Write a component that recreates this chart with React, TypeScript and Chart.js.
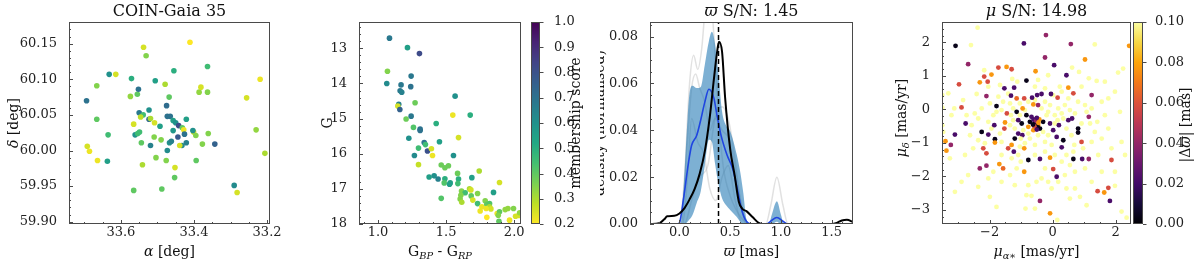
import React, { useEffect, useRef } from "react";
import { Chart, registerables } from "chart.js";

Chart.register(...registerables);

const FONT = "'DejaVu Serif', serif";
Chart.defaults.font.family = FONT;

const RA = [33.694, 33.666, 33.666, 33.692, 33.686, 33.664, 33.635, 33.637, 33.632, 33.614,
  33.571, 33.574, 33.555, 33.552, 33.538, 33.531, 33.550, 33.539, 33.546, 33.565,
  33.561, 33.549, 33.554, 33.544, 33.523, 33.523, 33.519, 33.519, 33.541, 33.565,
  33.509, 33.506, 33.508, 33.493, 33.490, 33.504, 33.488, 33.479, 33.475, 33.468,
  33.473, 33.465, 33.455, 33.457, 33.450, 33.442, 33.457, 33.467, 33.462, 33.473,
  33.476, 33.444, 33.452, 33.453, 33.432, 33.428, 33.426, 33.433, 33.439, 33.421,
  33.421, 33.411, 33.401, 33.403, 33.395, 33.394, 33.386, 33.381, 33.377, 33.363,
  33.363, 33.361, 33.343, 33.290, 33.282, 33.256, 33.230, 33.219, 33.206];
const DEC = [60.070, 60.091, 60.044, 60.006, 59.999, 59.986, 60.022, 59.985, 60.107, 60.107,
  60.101, 60.076, 60.079, 60.086, 60.145, 60.133, 60.053, 60.050, 60.047, 60.037,
  60.022, 60.026, 60.024, 60.011, 60.044, 60.057, 60.045, 60.007, 59.980, 59.944,
  60.019, 60.098, 60.039, 60.034, 60.015, 59.990, 59.946, 60.093, 60.063, 60.075,
  60.048, 60.048, 60.112, 60.042, 60.039, 60.035, 60.028, 60.011, 60.013, 60.000,
  59.986, 60.019, 59.976, 59.962, 60.032, 60.029, 60.023, 60.007, 60.007, 60.044,
  60.011, 60.152, 60.026, 60.028, 60.021, 59.986, 60.082, 60.089, 60.009, 60.118,
  60.082, 60.024, 60.009, 59.951, 59.941, 60.074, 60.029, 60.100, 59.996];
const MEMB_SKY = [0.70, 0.35, 0.40, 0.25, 0.22, 0.22, 0.45, 0.55, 0.60, 0.25,
  0.50, 0.33, 0.40, 0.70, 0.25, 0.35, 0.68, 0.45, 0.28, 0.25,
  0.60, 0.45, 0.45, 0.40, 0.72, 0.60, 0.30, 0.65, 0.30, 0.40,
  0.35, 0.55, 0.25, 0.55, 0.35, 0.35, 0.40, 0.30, 0.72, 0.40,
  0.70, 0.70, 0.50, 0.55, 0.60, 0.82, 0.58, 0.60, 0.65, 0.62,
  0.35, 0.78, 0.25, 0.40, 0.40, 0.22, 0.70, 0.62, 0.25, 0.55,
  0.65, 0.20, 0.25, 0.60, 0.35, 0.40, 0.33, 0.25, 0.35, 0.45,
  0.35, 0.35, 0.75, 0.62, 0.25, 0.25, 0.33, 0.22, 0.30];
const RA_TICKS = [33.6, 33.4, 33.2];
const DEC_TICKS = [59.9, 59.95, 60.0, 60.05, 60.1, 60.15];

const BPRP = [1.084, 1.216, 1.304, 1.069, 1.064, 1.243, 1.169, 1.240, 1.162, 1.174,
  1.272, 1.152, 1.145, 1.160, 1.566, 1.206, 1.243, 1.549, 1.677, 1.260,
  1.309, 1.309, 1.427, 1.591, 1.226, 1.339, 1.348, 1.451, 1.297, 1.363,
  1.392, 1.400, 1.267, 1.554, 1.297, 1.464, 1.491, 1.517, 1.584, 1.743,
  1.375, 1.412, 1.441, 1.491, 1.486, 1.530, 1.525, 1.591, 1.586, 1.689,
  1.464, 1.613, 1.640, 1.608, 1.672, 1.682, 1.731, 1.684, 1.603, 1.615,
  1.696, 1.731, 1.848, 1.787, 1.763, 1.750, 1.799, 1.819, 1.819, 1.829,
  1.794, 1.799, 1.892, 1.875, 1.892, 1.883, 1.934, 1.954, 1.995, 1.966,
  1.888, 2.010, 2.032, 2.040];
const GMAG = [12.71, 12.98, 13.15, 13.65, 14.00, 13.79, 14.04, 14.09, 14.21, 14.25,
  14.55, 14.59, 14.64, 14.74, 14.36, 15.01, 14.93, 14.90, 14.90, 15.25,
  15.30, 15.34, 15.14, 15.54, 15.56, 15.68, 15.74, 15.66, 15.84, 15.92,
  15.86, 16.05, 16.05, 16.05, 16.31, 16.32, 16.40, 16.34, 16.56, 16.49,
  16.66, 16.63, 16.72, 16.71, 16.83, 16.83, 16.87, 16.72, 16.85, 16.68,
  17.27, 17.06, 17.11, 17.18, 17.00, 17.03, 17.13, 17.20, 17.29, 17.38,
  17.32, 17.42, 17.10, 17.34, 17.51, 17.63, 17.44, 17.42, 17.51, 17.57,
  17.56, 17.81, 16.82, 17.70, 17.65, 17.75, 17.59, 17.56, 17.56, 17.89,
  17.92, 17.78, 17.76, 17.68];
const MEMB_CMD = [0.68, 0.55, 0.82, 0.35, 0.62, 0.68, 0.68, 0.70, 0.68, 0.65,
  0.38, 0.65, 0.25, 0.75, 0.60, 0.38, 0.68, 0.22, 0.50, 0.42,
  0.70, 0.70, 0.50, 0.25, 0.60, 0.70, 0.45, 0.55, 0.45, 0.80,
  0.25, 0.22, 0.62, 0.60, 0.27, 0.38, 0.38, 0.38, 0.38, 0.30,
  0.55, 0.60, 0.65, 0.50, 0.42, 0.55, 0.55, 0.50, 0.45, 0.55,
  0.42, 0.35, 0.45, 0.35, 0.30, 0.25, 0.35, 0.40, 0.35, 0.30,
  0.25, 0.45, 0.55, 0.35, 0.22, 0.22, 0.40, 0.42, 0.30, 0.25,
  0.22, 0.20, 0.25, 0.22, 0.40, 0.35, 0.33, 0.33, 0.35, 0.22,
  0.40, 0.25, 0.25, 0.33];
const BPRP_TICKS = [1.0, 1.5, 2.0];
const G_TICKS = [13, 14, 15, 16, 17, 18];
const MEMB_TICKS = [0.2, 0.3, 0.4, 0.5, 0.6, 0.7, 0.8, 0.9, 1.0];

const BAND_X = [-0.29, 0.01, 0.03, 0.05, 0.08, 0.1, 0.13, 0.17, 0.21, 0.25, 0.29, 0.32, 0.35, 0.38,
  0.42, 0.46, 0.5, 0.565, 0.6, 0.63, 0.66, 0.7, 0.88, 0.91, 0.96, 1.0, 1.03, 1.71];
const BAND_UP = [0, 0, 0.008, 0.022, 0.045, 0.056, 0.059, 0.058, 0.0585, 0.068, 0.078, 0.082, 0.077, 0.066,
  0.048, 0.042, 0.0396, 0.0296, 0.022, 0.013, 0.002, 0, 0, 0.004, 0.0097, 0.004, 0, 0];
const BAND_LO = [0, 0, 0, 0, 0.001, 0.002, 0.004, 0.009, 0.014, 0.025, 0.036, 0.035, 0.026, 0.018,
  0.011, 0.008, 0.006, 0.003, 0.001, 0, 0, 0, 0, 0, 0.001, 0, 0, 0];
const BLUE_X = [-0.29, -0.02, 0.0, 0.04, 0.09, 0.12, 0.17, 0.205, 0.25, 0.29, 0.34, 0.37, 0.41, 0.47,
  0.525, 0.57, 0.62, 0.68, 0.72, 0.86, 0.9, 0.96, 1.02, 1.07, 1.71];
const BLUE_Y = [0, 0, 0.0005, 0.0107, 0.0264, 0.0336, 0.0378, 0.0435, 0.052, 0.0575, 0.0536, 0.0464, 0.0378, 0.0293,
  0.0236, 0.015, 0.005, 0.0003, 0, 0, 0.0012, 0.0028, 0.0012, 0, 0];
const BLACK_X = [-0.29, -0.2, -0.15, -0.12, -0.05, 0.0, 0.05, 0.1, 0.15, 0.2, 0.25, 0.3, 0.34, 0.37, 0.39,
  0.42, 0.45, 0.5, 0.545, 0.585, 0.62, 0.66, 0.72, 0.78, 0.82, 1.5, 1.55, 1.6, 1.65, 1.71];
const BLACK_Y = [0, 0.0003, 0.002, 0.0033, 0.0035, 0.0045, 0.0068, 0.0105, 0.015, 0.0215, 0.031, 0.046, 0.062, 0.073, 0.0778,
  0.0735, 0.054, 0.032, 0.0205, 0.0095, 0.0065, 0.0055, 0.003, 0.0005, 0, 0, 0.0005, 0.0015, 0.0018, 0.0008];
const GREY1_X = [-0.29, 0.0, 0.05, 0.1, 0.14, 0.18, 0.22, 0.26, 0.3, 0.34, 0.38, 0.43, 0.5, 0.56, 0.62, 0.7, 1.71];
const GREY1_Y = [0, 0, 0.02, 0.06, 0.072, 0.066, 0.075, 0.095, 0.1, 0.08, 0.05, 0.025, 0.012, 0.006, 0.002, 0, 0];
const GREY2_X = [-0.29, 0.02, 0.07, 0.12, 0.16, 0.2, 0.25, 0.3, 0.35, 0.42, 0.5, 0.57, 0.64, 0.7, 0.85, 0.9, 0.96, 1.02, 1.07, 1.71];
const GREY2_Y = [0, 0, 0.03, 0.058, 0.064, 0.058, 0.052, 0.04, 0.045, 0.04, 0.035, 0.018, 0.003, 0, 0, 0.008, 0.02, 0.008, 0, 0];
const GREY3_X = [-0.29, 0.03, 0.08, 0.12, 0.18, 0.24, 0.3, 0.36, 0.42, 0.48, 0.55, 0.62, 1.71];
const GREY3_Y = [0, 0, 0.02, 0.045, 0.035, 0.03, 0.015, 0.01, 0.02, 0.025, 0.01, 0, 0];
const GREY4_X = [-0.29, 0.05, 0.12, 0.2, 0.28, 0.35, 0.42, 0.48, 0.54, 0.6, 0.66, 1.71];
const GREY4_Y = [0, 0, 0.01, 0.02, 0.025, 0.045, 0.05, 0.045, 0.03, 0.01, 0, 0];
const PLX_MARK = 0.385;
const PLX_TICKS = [0.0, 0.5, 1.0, 1.5];
const DENS_TICKS = [0.0, 0.02, 0.04, 0.06, 0.08];

const PM_RA = [
  -1.72, -1.57, -1.35, -1.62, -1.25, -1.04, -0.77, -0.56, -0.24, -0.08,
  -0.35, -0.14, 0.18, 0.39, 0.55, 0.71, 0.29, -0.19, 0.07, -0.88,
  -1.04, -1.25, -1.35, -1.20, -0.93, -0.77, -0.30, -0.14, -0.03, -0.56,
  -0.88, -1.04, -1.62, -1.67, -1.94, -2.04, -2.36, -2.47, -2.25, -1.99,
  -1.88, -2.57, -2.73, -2.84, -3.21, -2.36, -2.15, -2.52, -1.62, -1.30,
  -1.09, -0.24, 0.07, 0.44, 0.55, 0.29, 0.97, 1.24, 1.56, 1.34,
  1.77, 1.66, 1.56, 1.77, 1.98, 2.14, 0.81, 1.03, 1.24, 0.50,
  0.29, 0.02, -0.24, -0.56, -0.46, -0.14, 0.92, 1.66, 1.08, 0.71,
  1.03, 0.39, -0.14, -0.77, -1.35, -1.14, -1.62, -2.04, -2.68, -2.89,
  0.44, 0.71, 1.56, 1.98, 2.30, 2.19, 1.87, -3.50, -3.47,
  -2.38, -3.08, -2.59, -0.91, -0.21, 0.58, 1.34, 2.43, -2.68, -1.72,
  -1.46, -1.30, -2.17, -1.94, -2.17, -2.31, -2.06, -2.04, -1.67, -1.28,
  -1.12, -0.83, -0.54, -0.24, 0.05, 0.44, 0.62, 1.03, 0.84, 1.15,
  1.40, 2.08, 2.24, 0.23, 0.50, 0.66, 1.24, -2.97, -3.31, -3.50,
  -2.41, -2.10, -1.53, -1.22, -1.41, -1.32, -1.14, -0.90, -0.65, -0.49,
  -0.35, -0.05, 0.16, -0.46, -0.61, -0.95, -1.78, -1.78, -2.89, -3.12,
  -3.50, -2.76, -3.10, -3.23, -3.40, -3.37, -2.62, -2.25, -2.04, -1.85,
  -1.83, -1.83, -1.51, -1.53, -1.45, -1.32, -1.14, -1.09, -0.98, -0.83,
  -0.72, -0.67, -0.56, -0.51, -0.46, -0.56, -0.40, -0.61, -0.77, -0.30,
  -0.08, 0.07, 0.16, 0.20, 0.02, 0.34, 0.50, 0.62, 0.44, 0.81,
  0.81, 0.92, 1.15, 1.19, 1.42, -1.09, -0.96, -1.20, -1.01, -1.30,
  -1.41, -1.23, -0.90, -0.72, -0.46, -0.24, 0.13, 0.34, 0.60, 0.69,
  0.92, 0.29, -0.08, -0.40, -0.77, -2.20, -2.10, -2.31, -2.10, -1.69,
  -1.57, -1.88, -1.01, -0.90, 0.13, 0.02, 0.18, 0.66, 0.94, 1.15,
  1.87, 1.45, 0.66, -0.56, -0.24, -0.35, -0.51, -0.03, -2.36, -3.10,
  -2.78, -3.26, -1.99, -1.78, -0.83, -0.67, -0.40, -0.86, -0.56, -0.08,
  0.15, 0.55, 1.08, 1.43, 1.64, 1.77, 1.82, 1.98, 2.19, 2.35,
  0.87, 1.24, -1.20,
  -0.55, -0.60, -0.48, -0.52, -0.45, -0.58, -0.50, -0.42, -0.62, -0.50];
const PM_DEC = [
  0.38, 0.23, 0.18, -0.02, 0.03, 0.18, 0.23, 0.28, 0.23, 0.13,
  0.03, -0.07, 0.03, 0.13, -0.02, -0.12, -0.12, -0.17, -0.17, -0.02,
  -0.17, -0.32, -0.47, -0.57, -0.62, -0.72, -0.67, -0.77, -1.06, -1.06,
  -1.01, -1.11, -0.97, -0.72, -0.57, -0.37, -0.27, -0.12, 0.03, 0.18,
  -0.17, -0.47, -0.17, 0.28, -0.17, -0.92, -1.01, -1.16, -1.36, -1.46,
  -1.36, -1.26, -1.36, -1.36, -1.66, -1.56, -1.16, -0.97, -0.87, -0.67,
  -0.57, -0.17, 0.23, 0.33, 0.53, -0.07, 0.23, 0.13, 0.03, 0.33,
  0.53, 0.43, 0.63, 0.68, 0.88, 1.02, 0.68, 0.83, -0.07, -1.86,
  -1.76, -1.96, -2.16, -2.26, -1.96, -1.76, -2.16, -2.06, -1.96, -2.16,
  -2.36, -2.36, -1.86, -1.86, -1.36, -0.97, -1.16, -0.47, -0.67,
  2.44, 1.90, 1.92, 1.97, 2.22, 1.95, 1.94, 1.90, 1.35, 1.25,
  1.27, 1.20, 1.17, 1.04, 0.98, 0.81, 0.83, 0.68, 0.73, 0.91,
  0.83, 0.86, 1.14, 1.55, 1.32, 1.02, 1.25, 1.49, 1.12, 0.93,
  0.85, 1.10, 1.22, 0.68, 0.65, 0.48, 0.43, 0.75, 0.48, 0.43,
  0.46, 0.40, 0.63, 0.65, 0.47, 0.41, 0.33, 0.33, 0.35, 0.43,
  0.46, 0.46, 0.35, 0.13, 0.15, 0.03, 0.10, -0.07, 0.06, 0.03,
  0.05, -0.42, -0.75, -1.06, -0.95, -1.23, -0.77, -0.67, -0.75, -0.47,
  -0.89, -0.99, -0.39, -0.57, -0.12, -0.17, -0.07, -0.32, -0.42, -0.17,
  -0.37, -0.22, -0.37, -0.32, -0.47, -0.57, -0.57, -0.62, -0.52, -0.37,
  -0.42, -0.42, -0.32, -0.47, -0.62, -0.27, -0.32, -0.27, -0.57, -0.57,
  -0.69, -0.42, -0.22, -0.42, -0.37, -0.72, -0.77, -0.87, -0.87, -1.06,
  -1.16, -1.26, -1.16, -0.87, -0.77, -0.97, -0.82, -0.92, -0.77, -1.06,
  -0.97, -1.13, -1.44, -1.48, -1.51, -1.16, -1.31, -1.76, -1.68, -1.63,
  -1.76, -1.86, -1.56, -1.86, -2.01, -1.78, -2.16, -1.48, -1.48, -1.48,
  -1.51, -1.36, -1.26, -1.36, -1.76, -2.06, -2.16, -2.36, -2.31, -2.46,
  -1.36, -1.46, -2.61, -2.91, -2.56, -2.58, -2.73, -2.96, -2.96, -3.10,
  -3.30, -2.66, -2.86, -2.44, -2.48, -2.34, -2.73, -2.28, -3.05, -3.23,
  -2.61, -2.16, -2.26,
  -0.42, -0.30, -0.50, -0.35, -0.40, -0.50, -0.60, -0.30, -0.45, -0.25];
const DPLX = [
  0.1, 0.1, 0.1, 0.1, 0.1, 0.1, 0.1, 0.1, 0.1, 0.1,
  0.1, 0.1, 0.1, 0.1, 0.1, 0.1, 0.1, 0.1, 0.1, 0.1,
  0.1, 0.1, 0.1, 0.1, 0.1, 0.1, 0.1, 0.1, 0.1, 0.1,
  0.1, 0.1, 0.1, 0.1, 0.1, 0.1, 0.1, 0.1, 0.1, 0.1,
  0.1, 0.1, 0.1, 0.1, 0.1, 0.1, 0.1, 0.1, 0.1, 0.1,
  0.1, 0.1, 0.1, 0.1, 0.1, 0.1, 0.1, 0.1, 0.1, 0.1,
  0.1, 0.1, 0.1, 0.1, 0.1, 0.1, 0.1, 0.1, 0.1, 0.1,
  0.1, 0.1, 0.1, 0.1, 0.1, 0.1, 0.1, 0.1, 0.1, 0.1,
  0.1, 0.1, 0.1, 0.1, 0.1, 0.1, 0.1, 0.1, 0.1, 0.1,
  0.1, 0.1, 0.1, 0.1, 0.1, 0.1, 0.1, 0.1, 0.1,
  0.1, 0.004, 0.1, 0.022, 0.04, 0.04, 0.1, 0.077, 0.04, 0.058,
  0.077, 0.058, 0.1, 0.077, 0.058, 0.077, 0.058, 0.1, 0.1, 0.1,
  0.1, 0.004, 0.077, 0.04, 0.022, 0.022, 0.1, 0.077, 0.1, 0.1,
  0.1, 0.1, 0.1, 0.1, 0.077, 0.058, 0.04, 0.058, 0.1, 0.1,
  0.1, 0.04, 0.022, 0.022, 0.1, 0.022, 0.066, 0.058, 0.022, 0.022,
  0.022, 0.022, 0.058, 0.04, 0.077, 0.077, 0.004, 0.1, 0.058, 0.1,
  0.1, 0.022, 0.022, 0.04, 0.077, 0.077, 0.1, 0.004, 0.022, 0.022,
  0.004, 0.077, 0.077, 0.058, 0.058, 0.1, 0.004, 0.022, 0.004, 0.004,
  0.004, 0.022, 0.015, 0.004, 0.077, 0.022, 0.004, 0.077, 0.077, 0.004,
  0.022, 0.1, 0.1, 0.022, 0.022, 0.1, 0.022, 0.022, 0.1, 0.004,
  0.004, 0.1, 0.04, 0.1, 0.1, 0.022, 0.022, 0.004, 0.1, 0.077,
  0.058, 0.022, 0.077, 0.1, 0.1, 0.1, 0.022, 0.004, 0.1, 0.1,
  0.058, 0.022, 0.077, 0.022, 0.004, 0.058, 0.058, 0.04, 0.04, 0.077,
  0.066, 0.1, 0.1, 0.077, 0.022, 0.058, 0.1, 0.004, 0.022, 0.04,
  0.058, 0.1, 0.1, 0.1, 0.1, 0.1, 0.1, 0.1, 0.1, 0.1,
  0.1, 0.1, 0.1, 0.1, 0.1, 0.1, 0.04, 0.1, 0.1, 0.077,
  0.1, 0.1, 0.1, 0.058, 0.077, 0.058, 0.022, 0.1, 0.1, 0.1,
  0.1, 0.1, 0.1,
  0.004, 0.022, 0.004, 0.04, 0.077, 0.058, 0.022, 0.077, 0.004, 0.022];
const PMRA_TICKS = [-2, 0, 2];
const PMDEC_TICKS = [-3, -2, -1, 0, 1, 2];
const DPLX_TICKS = [0.0, 0.02, 0.04, 0.06, 0.08, 0.1];

const VIRIDIS = ["#440154", "#482475", "#414487", "#355f8d", "#2a788e", "#21918c", "#22a884", "#44bf70", "#7ad151", "#bddf26", "#fde725"];
const INFERNO = ["#000004", "#160b39", "#420a68", "#6a176e", "#932667", "#bc3754", "#dd513a", "#f37819", "#fca50a", "#f6d746", "#fcffa4"];

function hexToRgb(h: string) {
  return [parseInt(h.slice(1, 3), 16), parseInt(h.slice(3, 5), 16), parseInt(h.slice(5, 7), 16)];
}
function cmap(stops: string[], t: number) {
  const tt = Math.max(0, Math.min(1, t));
  const f = tt * (stops.length - 1);
  const i = Math.min(stops.length - 2, Math.floor(f));
  const r = f - i;
  const a = hexToRgb(stops[i]);
  const b = hexToRgb(stops[i + 1]);
  const c = a.map((v, k) => Math.round(v + (b[k] - v) * r));
  return `rgb(${c[0]},${c[1]},${c[2]})`;
}
const membColor = (v: number) => cmap(VIRIDIS, (1.0 - v) / 0.8);
const dplxColor = (v: number) => cmap(INFERNO, v / 0.1);

type Seg = { t: string; sub?: boolean; it?: boolean };
type TextItem = { segs: Seg[]; x: number; y: number; size: number; rot?: boolean };

function makeTextPlugin(items: TextItem[], offsetX: number) {
  return {
    id: "txt",
    afterDraw(chart: any) {
      const ctx = chart.ctx;
      for (const it of items) {
        ctx.save();
        const fontOf = (s: Seg) => `${s.it ? "italic " : ""}${s.sub ? it.size * 0.7 : it.size}px ${FONT}`;
        let w = 0;
        for (const s of it.segs) {
          ctx.font = fontOf(s);
          w += ctx.measureText(s.t).width;
        }
        ctx.translate(it.x - offsetX, it.y);
        if (it.rot) ctx.rotate(-Math.PI / 2);
        ctx.fillStyle = "#111";
        ctx.textBaseline = "alphabetic";
        ctx.textAlign = "left";
        let cx = -w / 2;
        for (const s of it.segs) {
          ctx.font = fontOf(s);
          ctx.fillText(s.t, cx, s.sub ? it.size * 0.22 : 0);
          cx += ctx.measureText(s.t).width;
        }
        ctx.restore();
      }
    },
  };
}

type FrameCfg = { xMajor?: number[]; xMinor?: number; yMajor: number[]; yMinor?: number; cbar?: boolean };
function makeFramePlugin(cfg: FrameCfg) {
  return {
    id: "frame",
    afterDatasetsDraw(chart: any) {
      const { ctx, chartArea: a } = chart;
      const xs = chart.scales.x;
      const ys = chart.scales.y;
      ctx.save();
      ctx.strokeStyle = "#4a4a4a";
      ctx.lineWidth = 1;
      ctx.beginPath();
      const py = (v: number) => Math.round(ys.getPixelForValue(v)) + 0.5;
      const px = (v: number) => Math.round(xs.getPixelForValue(v)) + 0.5;
      const minors = (s: any, step: number) => {
        const lo = Math.min(s.min, s.max);
        const hi = Math.max(s.min, s.max);
        const out: number[] = [];
        for (let k = Math.ceil(lo / step - 1e-9); k * step <= hi + 1e-9; k++) out.push(+(k * step).toFixed(6));
        return out;
      };
      if (cfg.cbar) {
        for (const v of cfg.yMajor) {
          const y = py(v);
          ctx.moveTo(a.right, y);
          ctx.lineTo(a.right + 3.5, y);
        }
      } else {
        if (cfg.yMinor) for (const v of minors(ys, cfg.yMinor)) { const y = py(v); ctx.moveTo(a.left, y); ctx.lineTo(a.left + 2, y); }
        for (const v of cfg.yMajor) { const y = py(v); ctx.moveTo(a.left, y); ctx.lineTo(a.left + 4, y); }
        if (cfg.xMinor) for (const v of minors(xs, cfg.xMinor)) { const x = px(v); ctx.moveTo(x, a.bottom); ctx.lineTo(x, a.bottom - 2); }
        for (const v of cfg.xMajor || []) { const x = px(v); ctx.moveTo(x, a.bottom); ctx.lineTo(x, a.bottom - 4); }
      }
      ctx.stroke();
      ctx.strokeRect(Math.round(a.left) + 0.5, Math.round(a.top) + 0.5, Math.round(a.right - a.left) - 1, Math.round(a.bottom - a.top) - 1);
      ctx.restore();
    },
  };
}

const TICK_FONT = { family: FONT, size: 13 };
const X_TICK_PAD = -7;
function axis(o: { min: number; max: number; ticks: number[]; fmt: (v: number) => string; size: number; pad: number; reverse?: boolean; position?: string }) {
  return {
    type: "linear",
    position: o.position,
    min: o.min,
    max: o.max,
    reverse: !!o.reverse,
    grid: { display: false },
    border: { display: false },
    ticks: { font: TICK_FONT, color: "#222", padding: o.pad, maxRotation: 0, autoSkip: false, callback: (v: any) => o.fmt(Number(v)) },
    afterBuildTicks: (s: any) => { s.ticks = o.ticks.map((v) => ({ value: v })); },
    afterFit: (s: any) => {
      if (s.isHorizontal()) s.height = o.size; else s.width = o.size;
      s.paddingLeft = 0; s.paddingRight = 0; s.paddingTop = 0; s.paddingBottom = 0;
    },
  };
}
const minusFmt = (v: number) => (v < 0 ? "\u2212" + Math.abs(v) : String(v));

const H = 262;
const X_AXIS_H = 38;
const TOP = 22;
const BASE_OPTS = {
  responsive: false,
  animation: false as const,
  devicePixelRatio: 1,
  events: [] as any[],
};
const NO_PLUGINS = { legend: { display: false }, tooltip: { enabled: false }, title: { display: false } };

function ChartBox({ left, width, config }: { left: number; width: number; config: any }) {
  const ref = useRef<HTMLCanvasElement | null>(null);
  useEffect(() => {
    const chart = new Chart(ref.current as HTMLCanvasElement, config);
    return () => chart.destroy();
  }, []);
  return (
    <div style={{ position: "absolute", left, top: 0, width, height: H }}>
      <canvas ref={ref} width={width} height={H} style={{ width, height: H, display: "block" }} />
    </div>
  );
}

function panel1() {
  const left = 0, width = 300;
  return {
    left, width,
    config: {
      type: "scatter",
      data: {
        datasets: [{
          data: RA.map((x, i) => ({ x, y: DEC[i] })),
          pointBackgroundColor: MEMB_SKY.map(membColor),
          pointBorderWidth: 0,
          pointRadius: 2.8,
        }],
      },
      options: {
        ...BASE_OPTS,
        layout: { padding: { top: TOP, right: 30, left: 0, bottom: 0 } },
        scales: {
          x: axis({ min: 33.192, max: 33.742, reverse: true, ticks: RA_TICKS, fmt: (v) => v.toFixed(1), size: X_AXIS_H, pad: X_TICK_PAD }),
          y: axis({ min: 59.8968, max: 60.1805, ticks: DEC_TICKS, fmt: (v) => v.toFixed(2), size: 69, pad: 4 }),
        },
        plugins: NO_PLUGINS,
      },
      plugins: [
        makeFramePlugin({ xMajor: RA_TICKS, xMinor: 0.05, yMajor: DEC_TICKS, yMinor: 0.01 }),
        makeTextPlugin([
          { segs: [{ t: "COIN-Gaia 35" }], x: 169.5, y: 16, size: 16 },
          { segs: [{ t: "\u03b1", it: true }, { t: " [deg]" }], x: 169.5, y: 256, size: 14 },
          { segs: [{ t: "\u03b4", it: true }, { t: " [deg]" }], x: 17.5, y: 123, size: 14, rot: true },
        ], left),
      ],
    },
  };
}

function panel2() {
  const left = 300, width = 225;
  return {
    left, width,
    config: {
      type: "scatter",
      data: {
        datasets: [{
          data: BPRP.map((x, i) => ({ x, y: GMAG[i] })),
          pointBackgroundColor: MEMB_CMD.map(membColor),
          pointBorderWidth: 0,
          pointRadius: 2.8,
        }],
      },
      options: {
        ...BASE_OPTS,
        layout: { padding: { top: TOP, right: 4, left: 0, bottom: 0 } },
        scales: {
          x: axis({ min: 0.86, max: 2.05, ticks: BPRP_TICKS, fmt: (v) => v.toFixed(1), size: X_AXIS_H, pad: X_TICK_PAD }),
          y: axis({ min: 12.25, max: 18.0, reverse: true, ticks: G_TICKS, fmt: (v) => String(v), size: 59, pad: 4 }),
        },
        plugins: NO_PLUGINS,
      },
      plugins: [
        makeFramePlugin({ xMajor: BPRP_TICKS, xMinor: 0.1, yMajor: G_TICKS, yMinor: 0.2 }),
        makeTextPlugin([
          { segs: [{ t: "G" }, { t: "BP", sub: true, it: true }, { t: " - G" }, { t: "RP", sub: true, it: true }], x: 440, y: 256, size: 14 },
          { segs: [{ t: "G" }], x: 331.5, y: 123, size: 14, rot: true },
        ], left),
      ],
    },
  };
}

function colorbar(left: number, width: number, padLeft: number, axisW: number, lo: number, hi: number, ticks: number[], fmt: (v: number) => string, colorAt: (t: number) => string, labelPad: number, text: TextItem) {
  return {
    left, width,
    config: {
      type: "bar",
      data: {
        labels: [""],
        datasets: [{
          data: [[lo, hi]],
          barPercentage: 1,
          categoryPercentage: 1,
          borderWidth: 0,
          backgroundColor: (c: any) => {
            const area = c.chart.chartArea;
            if (!area) return "#888";
            const g = c.chart.ctx.createLinearGradient(0, area.bottom, 0, area.top);
            for (let k = 0; k <= 20; k++) g.addColorStop(k / 20, colorAt(k / 20));
            return g;
          },
        }],
      },
      options: {
        ...BASE_OPTS,
        layout: { padding: { top: TOP, right: 0, left: padLeft, bottom: X_AXIS_H } },
        scales: {
          x: { type: "category", display: false },
          y: axis({ min: lo, max: hi, ticks, fmt, size: axisW, pad: labelPad, position: "right" }),
        },
        plugins: NO_PLUGINS,
      },
      plugins: [makeFramePlugin({ yMajor: ticks, cbar: true }), makeTextPlugin([text], left)],
    },
  };
}

function panel3() {
  const left = 600, width = 290;
  const pts = (xs: number[], ys: number[]) => xs.map((x, i) => ({ x, y: ys[i] }));
  const grey = { borderColor: "rgba(170,170,170,0.35)", borderWidth: 1.5, pointRadius: 0, fill: false, cubicInterpolationMode: "monotone" };
  const Y_MAX = 0.0862;
  return {
    left, width,
    config: {
      type: "line",
      data: {
        datasets: [
          { data: [{ x: PLX_MARK, y: 0 }, { x: PLX_MARK, y: Y_MAX }], borderColor: "#000", borderWidth: 1.5, borderDash: [5, 3], pointRadius: 0, fill: false },
          { data: pts(BLACK_X, BLACK_Y), borderColor: "#000", borderWidth: 2, pointRadius: 0, fill: false, cubicInterpolationMode: "monotone" },
          { data: pts(BLUE_X, BLUE_Y), borderColor: "#1f45e0", borderWidth: 1.6, pointRadius: 0, fill: false, cubicInterpolationMode: "monotone" },
          { data: pts(BAND_X, BAND_UP), borderWidth: 0, borderColor: "rgba(0,0,0,0)", backgroundColor: "rgba(31,119,180,0.58)", pointRadius: 0, fill: "+1", cubicInterpolationMode: "monotone" },
          { data: pts(BAND_X, BAND_LO), borderWidth: 0, borderColor: "rgba(0,0,0,0)", pointRadius: 0, fill: false, cubicInterpolationMode: "monotone" },
          { data: pts(GREY1_X, GREY1_Y), ...grey },
          { data: pts(GREY2_X, GREY2_Y), ...grey },
          { data: pts(GREY3_X, GREY3_Y), ...grey },
          { data: pts(GREY4_X, GREY4_Y), ...grey },
        ],
      },
      options: {
        ...BASE_OPTS,
        layout: { padding: { top: TOP, right: 37, left: 0, bottom: 0 } },
        scales: {
          x: axis({ min: -0.29, max: 1.71, ticks: PLX_TICKS, fmt: (v) => v.toFixed(1), size: X_AXIS_H, pad: X_TICK_PAD }),
          y: axis({ min: 0, max: Y_MAX, ticks: DENS_TICKS, fmt: (v) => v.toFixed(2), size: 50, pad: 4 }),
        },
        plugins: { ...NO_PLUGINS, filler: { propagate: false } },
      },
      plugins: [
        makeFramePlugin({ xMajor: PLX_TICKS, xMinor: 0.1, yMajor: DENS_TICKS, yMinor: 0.005 }),
        makeTextPlugin([
          { segs: [{ t: "\u03d6", it: true }, { t: " S/N: 1.45" }], x: 751.5, y: 16, size: 16 },
          { segs: [{ t: "\u03d6", it: true }, { t: " [mas]" }], x: 751.5, y: 256, size: 14 },
          { segs: [{ t: "density (normalised)" }], x: 603.5, y: 123, size: 14, rot: true },
        ], left),
      ],
    },
  };
}

function panel4() {
  const left = 890, width = 246;
  return {
    left, width,
    config: {
      type: "scatter",
      data: {
        datasets: [{
          data: PM_RA.map((x, i) => ({ x, y: PM_DEC[i] })),
          pointBackgroundColor: DPLX.map(dplxColor),
          pointBorderWidth: 0,
          pointRadius: 2.4,
        }],
      },
      options: {
        ...BASE_OPTS,
        layout: { padding: { top: TOP, right: 5, left: 0, bottom: 0 } },
        scales: {
          x: axis({ min: -3.51, max: 2.49, ticks: PMRA_TICKS, fmt: minusFmt, size: X_AXIS_H, pad: X_TICK_PAD }),
          y: axis({ min: -3.42, max: 2.61, ticks: PMDEC_TICKS, fmt: minusFmt, size: 52, pad: 4 }),
        },
        plugins: NO_PLUGINS,
      },
      plugins: [
        makeFramePlugin({ xMajor: PMRA_TICKS, xMinor: 0.5, yMajor: PMDEC_TICKS, yMinor: 0.2 }),
        makeTextPlugin([
          { segs: [{ t: "\u03bc", it: true }, { t: " S/N: 14.98" }], x: 1036.5, y: 16, size: 16 },
          { segs: [{ t: "\u03bc", it: true }, { t: "\u03b1\u2217", it: true, sub: true }, { t: " [mas/yr]" }], x: 1036.5, y: 256, size: 14 },
          { segs: [{ t: "\u03bc", it: true }, { t: "\u03b4", it: true, sub: true }, { t: " [mas/yr]" }], x: 906, y: 118, size: 14, rot: true },
        ], left),
      ],
    },
  };
}

export default function App() {
  const panels = [
    panel1(),
    panel2(),
    colorbar(525, 75, 6, 60, 0.2, 1.0, MEMB_TICKS, (v) => v.toFixed(1), (t) => cmap(VIRIDIS, 1 - t), 6,
      { segs: [{ t: "membership score" }], x: 580, y: 123, size: 14, rot: true }),
    panel3(),
    panel4(),
    colorbar(1130, 70, 3, 57, 0.0, 0.1, DPLX_TICKS, (v) => v.toFixed(2), (t) => cmap(INFERNO, t), 4,
      { segs: [{ t: "|\u0394" }, { t: "\u03d6", it: true }, { t: "| [mas]" }], x: 1190, y: 125, size: 14, rot: true }),
  ];
  return (
    <div style={{ position: "fixed", left: 0, top: 0, width: 1200, height: H, background: "#fff", overflow: "hidden" }}>
      {panels.map((p, i) => (
        <ChartBox key={i} left={p.left} width={p.width} config={p.config} />
      ))}
    </div>
  );
}
